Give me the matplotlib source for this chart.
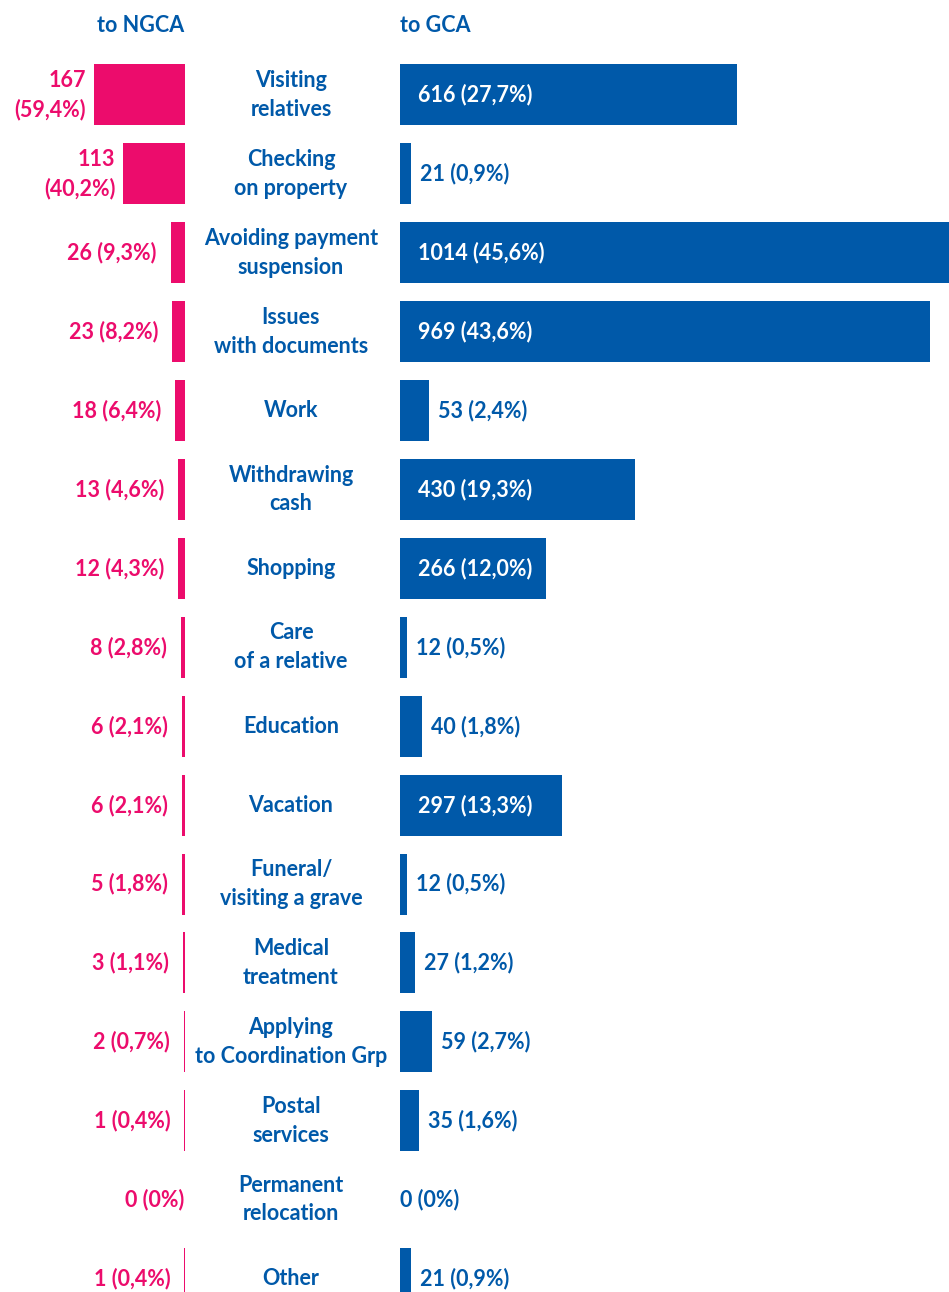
import matplotlib.pyplot as plt
import numpy as np

plt.rcParams['font.family'] = ['Lato', 'DejaVu Sans']
plt.rcParams['font.weight'] = 'bold'

PINK = '#EC0C6C'
BLUE = '#0059A9'

categories = ['Visiting\nrelatives', 'Checking\non property', 'Avoiding payment\nsuspension',
              'Issues\nwith documents', 'Work', 'Withdrawing\ncash', 'Shopping',
              'Care\nof a relative', 'Education', 'Vacation', 'Funeral/\nvisiting a grave',
              'Medical\ntreatment', 'Applying\nto Coordination Grp', 'Postal\nservices',
              'Permanent\nrelocation', 'Other']
to_ngca = [167, 113, 26, 23, 18, 13, 12, 8, 6, 6, 5, 3, 2, 1, 0, 1]
to_ngca_pct = ['59,4', '40,2', '9,3', '8,2', '6,4', '4,6', '4,3', '2,8', '2,1', '2,1',
               '1,8', '1,1', '0,7', '0,4', '0', '0,4']
to_gca = [616, 21, 1014, 969, 53, 430, 266, 12, 40, 297, 12, 27, 59, 35, 0, 21]
to_gca_pct = ['27,7', '0,9', '45,6', '43,6', '2,4', '19,3', '12,0', '0,5', '1,8', '13,3',
              '0,5', '1,2', '2,7', '1,6', '0', '0,9']

W, H = 949, 1292
fig = plt.figure(figsize=(W / 100, H / 100), dpi=100)

# row layout (pixels from top): first row centre and spacing
row0, step, bar_px = 95, 78.9, 61
ylim = ((H - row0) / step, -row0 / step)
bar_h = bar_px / step
y = np.arange(len(categories))

px_per_unit = 0.547
fs = 15.5
lsp = 1.45

# left side: to NGCA
axl = fig.add_axes([0, 0, 185 / W, 1])
axl.barh(y, to_ngca, height=bar_h, color=PINK)
axl.set_xlim(185 / px_per_unit, 0)
axl.set_ylim(*ylim)
axl.axis('off')
for i, (v, p) in enumerate(zip(to_ngca, to_ngca_pct)):
    lab = f'{v} ({p}%)' if v < 100 else f'{v}\n({p}%)'
    gap = 8 if v >= 100 else (1 if v == 0 else 14)
    axl.annotate(lab, (v, i), xytext=(-gap * 0.72, 0), textcoords='offset points',
                 ha='right', va='center', color=PINK, fontsize=fs, fontweight='bold',
                 linespacing=lsp, annotation_clip=False)

# right side: to GCA
axr = fig.add_axes([400 / W, 0, 549 / W, 1])
axr.barh(y, to_gca, height=bar_h, color=BLUE)
axr.set_xlim(0, 549 / px_per_unit)
axr.set_ylim(*ylim)
axr.axis('off')
for i, (v, p) in enumerate(zip(to_gca, to_gca_pct)):
    lab = f'{v} ({p}%)'
    if v >= 250:
        axr.annotate(lab, (0, i), xytext=(18 * 0.72, 0), textcoords='offset points',
                     ha='left', va='center', color='white', fontsize=fs, fontweight='bold')
    else:
        gap = 0 if v == 0 else 9
        axr.annotate(lab, (v, i), xytext=(gap * 0.72, 0), textcoords='offset points',
                     ha='left', va='center', color=BLUE, fontsize=fs, fontweight='bold',
                     annotation_clip=False)

# centre labels and headers
axc = fig.add_axes([0, 0, 1, 1], zorder=-1)
axc.set_xlim(0, W)
axc.set_ylim(*ylim)
axc.axis('off')
for i, c in enumerate(categories):
    axc.text(291, i, c, ha='center', va='center', color=BLUE, fontsize=fs,
             fontweight='bold', linespacing=lsp)

fig.text(141 / W, 1 - 25 / H, 'to NGCA', ha='center', va='center', color=BLUE,
         fontsize=fs, fontweight='bold')
fig.text(400 / W, 1 - 25 / H, 'to GCA', ha='left', va='center', color=BLUE,
         fontsize=fs, fontweight='bold')

fig.savefig('out.png', dpi=100)
